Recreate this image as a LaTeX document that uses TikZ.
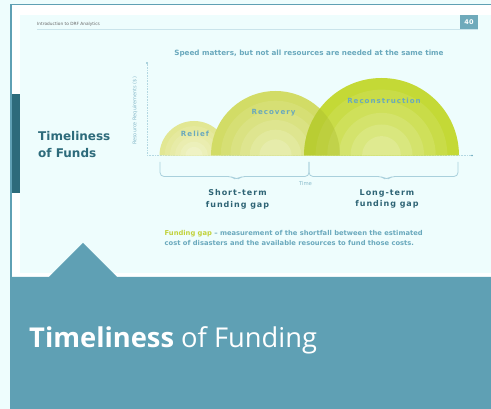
\documentclass[tikz,border=0pt]{standalone}
\usepackage{fontspec}
\setmainfont{DejaVu Sans}
\newfontfamily\panelfont{Open Sans}
\usetikzlibrary{positioning}

\definecolor{pagecyan}{HTML}{EEFDFD}
\definecolor{frameteal}{HTML}{5FA0B4}
\definecolor{darkteal}{HTML}{2D6B7B}
\definecolor{softteal}{HTML}{6AA9BD}
\definecolor{deepteal}{HTML}{2E6475}
\definecolor{axisblue}{HTML}{B4D8E2}
\definecolor{bracecol}{HTML}{A9D0DC}
\definecolor{reliefcol}{HTML}{E2E793}
\definecolor{recovcol}{HTML}{D2DC66}
\definecolor{reconcol}{HTML}{C4D936}
\definecolor{gapgreen}{HTML}{C2D23C}

\tikzset{
  phase label/.style={text=softteal, font=\fontsize{7.1}{8}\selectfont\bfseries\addfontfeature{LetterSpace=14}},
  gap label/.style={text=deepteal, align=center, font=\fontsize{8}{11.8}\selectfont\bfseries\addfontfeature{LetterSpace=12}},
  brace line/.style={draw=bracecol, line width=0.8pt, rounded corners=4pt},
  axis line/.style={draw=axisblue, densely dotted, line width=0.6pt}
}

% half disc made of rings, lighter towards the middle
\newcommand\phasebump[3]{%
  \foreach \k in {0,...,5}{%
    \pgfmathsetmacro\rr{#2*(1-0.15*\k)}%
    \pgfmathtruncatemacro\pc{100-9*\k}%
    \fill[#3!\pc!white] (#1-\rr,155.5) arc[start angle=180,end angle=360,radius=\rr] -- cycle;
  }%
}

\begin{document}
\begin{tikzpicture}[x=1pt,y=-1pt]
  \useasboundingbox (0,0) rectangle (491,409);
  \fill[pagecyan] (0,0) rectangle (491,409);

  % frame and slide
  \fill[white] (11,5) rectangle (491,277);
  \fill[pagecyan] (20,15) rectangle (491,273);
  \draw[frameteal, line width=1.6pt] (10.8,285) -- (10.8,4.6) -- (491,4.6);
  \fill[darkteal] (12,94) rectangle (20,193);

  % header
  \node[anchor=west, text=black!60, font=\fontsize{4.3}{5}\selectfont, inner sep=0] (intro) at (37,24) {Introduction to DRF Analytics};
  \draw[axisblue!70, line width=0.5pt] (37,29.5) -- (478,29.5);
  \node[fill=frameteal!90, text=white, font=\fontsize{6.5}{7}\selectfont\bfseries, minimum width=18pt, minimum height=14pt, inner sep=0] (page) at (469,22) {40};

  % left title
  \node[anchor=west, align=left, text=darkteal, font=\fontsize{12}{17.5}\selectfont\bfseries, inner sep=0] (side) at (38,144.5) {Timeliness\\of Funds};

  % chart title
  \node[text=softteal, font=\fontsize{7.2}{8}\selectfont\bfseries, inner sep=0] (head) at (309,54) {Speed matters, but not all resources are needed at the same time};

  % axes
  \coordinate (o) at (147,155.5);
  \coordinate (ytop) at (147,63);
  \coordinate (xend) at (472,155.5);
  \draw[axis line] (o) -- (ytop);
  \draw[axis line] (o) -- (xend);
  \fill[softteal] (ytop) circle (0.9);
  \fill[softteal] (xend) circle (0.9);
  \node[rotate=90, text=softteal!80, font=\fontsize{5}{6}\selectfont, inner sep=0] (ylab) at (135,111) {Resource Requirements (\$)};

  % phases
  \phasebump{194}{34.5}{reliefcol}
  \phasebump{275.5}{64.5}{recovcol}
  \phasebump{381.5}{77.5}{reconcol}
  \begin{scope}
    \clip (211,155.5) arc[start angle=180,end angle=360,radius=64.5] -- cycle;
    \fill[reconcol!85!black, opacity=0.35] (304,155.5) arc[start angle=180,end angle=360,radius=77.5] -- cycle;
  \end{scope}
  \node[phase label] (relief) at (195,134) {Relief};
  \node[phase label] (recov) at (273.5,112.5) {Recovery};
  \node[phase label] (recon) at (384,100.5) {Reconstruction};

  % braces
  \coordinate (b1) at (160,162);
  \coordinate (b2) at (309,162);
  \coordinate (b3) at (458,162);
  \draw[brace line] (b1) |- (232,176.5) -- (236.5,180) -- (241,176.5) -| (b2);
  \draw[brace line] (b2) |- (382,176.5) -- (386.5,180) -- (391,176.5) -| (b3);
  \node[text=softteal!80, font=\fontsize{5.3}{6}\selectfont, inner sep=0] (time) at (305.5,183.5) {Time};
  \node[gap label] (short) at (237.5,199) {Short-term\\funding gap};
  \node[gap label] (long) at (387,199) {Long-term\\funding gap};

  % definition
  \node[anchor=north west, align=left, text=softteal, font=\fontsize{6.75}{10}\selectfont\bfseries, inner sep=0] (defn) at (164.5,230.5)
    {\textcolor{gapgreen}{Funding gap} -- measurement of the shortfall between the estimated\\cost of disasters and the available resources to fund those costs.};

  % bottom panel
  \fill[frameteal] (10,277) -- (49,277) -- (83,243) -- (117,277) -- (491,277) -- (491,409) -- (10,409) -- cycle;
  \node[anchor=base west, text=white, font=\panelfont\fontsize{27.3}{30}\selectfont, inner sep=0] (caption) at (29,348)
    {\textbf{Timeliness} of Funding};
\end{tikzpicture}
\end{document}
